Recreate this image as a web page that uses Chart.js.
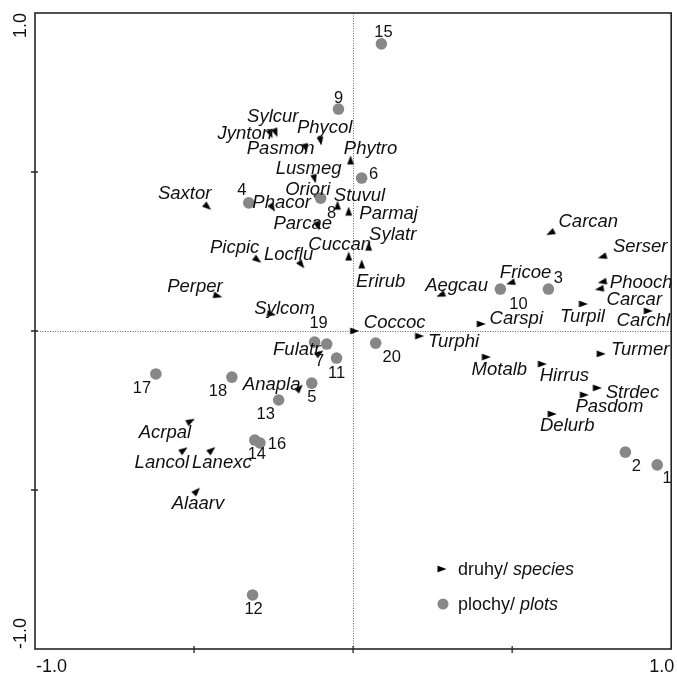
<!DOCTYPE html>
<html>
<head>
<meta charset="utf-8">
<script src="https://cdn.jsdelivr.net/npm/chart.js@4/dist/chart.umd.min.js"></script>
<style>
  html, body { margin: 0; padding: 0; background: #fff; }
  #wrap { width: 677px; height: 674px; }
</style>
</head>
<body>
<div id="wrap"><canvas id="ord" width="677" height="674"></canvas></div>
<script>
// Ordination scores: species (druhy) and sampling plots (plochy) on axes 1 and 2
const speciesNames = ['Sylcur','Jynton','Phycol','Pasmon','Phytro','Lusmeg','Oriori','Stuvul','Parmaj','Phacor',
  'Saxtor','Parcae','Picpic','Locflu','Cuccan','Sylatr','Erirub','Sylcom','Perper','Coccoc',
  'Fulatr','Anapla','Acrpal','Lancol','Lanexc','Alaarv','Carcan','Serser','Fricoe','Aegcau',
  'Phooch','Carcar','Turpil','Carchl','Carspi','Turphi','Turmer','Motalb','Hirrus','Strdec',
  'Pasdom','Delurb'];
const speciesAxis1 = [-0.243,-0.259,-0.102,-0.149,-0.008,-0.121,-0.111,-0.049,-0.014,-0.253,
  -0.457,-0.111,-0.300,-0.162,-0.014,0.049,0.027,-0.256,-0.425,0.005,
  -0.105,-0.168,-0.510,-0.532,-0.444,-0.491,0.620,0.783,0.495,0.275,
  0.783,0.774,0.724,0.928,0.403,0.209,0.780,0.419,0.595,0.768,
  0.727,0.626];
const speciesAxis2 = [0.623,0.619,0.597,0.575,0.538,0.478,0.415,0.396,0.377,0.387,
  0.390,0.330,0.223,0.208,0.236,0.267,0.211,0.053,0.110,0.000,
  -0.069,-0.179,-0.283,-0.374,-0.374,-0.503,0.308,0.233,0.151,0.113,
  0.154,0.132,0.085,0.063,0.022,-0.016,-0.072,-0.082,-0.104,-0.179,
  -0.201,-0.261];

const plotNames = ['1','2','3','4','5','6','7','8','9','10','11','12','13','14','15','16','17','18','19','20'];
const plotAxis1 = [0.956,0.856,0.614,-0.328,-0.130,0.027,-0.083,-0.102,-0.046,0.463,
  -0.052,-0.316,-0.234,-0.309,0.089,-0.293,-0.620,-0.381,-0.121,0.071];
const plotAxis2 = [-0.421,-0.381,0.132,0.403,-0.164,0.481,-0.041,0.418,0.698,0.132,
  -0.085,-0.830,-0.217,-0.343,0.903,-0.352,-0.135,-0.145,-0.035,-0.038];

const axisRange = [-1.0, 1.0];
const axisTickLabels = ['-1.0', '1.0'];
const axisMinorTicks = [-0.5, 0, 0.5];

const legendEntries = [
  { plain: 'druhy/ ', italic: 'species' },
  { plain: 'plochy/ ', italic: 'plots' }
];

// Label placement: pixel nudge of each label centre from its symbol
const speciesLabelNudge = {
  Sylcur:[-3,-16], Jynton:[-26,0], Phycol:[4,-13], Pasmon:[-25,1], Phytro:[20,-11],
  Lusmeg:[-6,-10], Oriori:[-10,-9], Stuvul:[22,-9], Parmaj:[40,3], Phacor:[9,-5],
  Saxtor:[-23,-13], Parcae:[-15,-2], Picpic:[-23,-12], Locflu:[-13,-10], Cuccan:[-9,-11],
  Sylatr:[24,-11], Erirub:[19,18], Sylcom:[13,-5], Perper:[-23,-9], Coccoc:[40,-8],
  Fulatr:[-23,-3], Anapla:[-28,-3], Acrpal:[-26,12], Lancol:[-22,13], Lanexc:[10,13],
  Alaarv:[1,13], Carcan:[38,-11], Serser:[38,-10], Fricoe:[15,-10], Aegcau:[16,-9],
  Phooch:[39,1], Carcar:[35,11], Turpil:[-1,13], Carchl:[-5,10], Carspi:[35,-5],
  Turphi:[34,6], Turmer:[39,-4], Motalb:[13,13], Hirrus:[22,12], Strdec:[35,5],
  Pasdom:[25,12], Delurb:[15,12]
};
const plotLabelNudge = {
  '1':[10,14], '2':[11,14], '3':[10,-11], '4':[-7,-12], '5':[0,14], '6':[12,-4],
  '7':[-7,17], '8':[11,15], '9':[0,-11], '10':[18,15], '11':[0,15], '12':[1,15],
  '13':[-13,14], '14':[2,14], '15':[2,-11], '16':[17,2], '17':[-14,15], '18':[-14,14],
  '19':[4,-19], '20':[16,14]
};

const FONT = '"Liberation Sans", Arial, Helvetica, sans-serif';
const PLOT_GREY = '#878787';

// Slim arrowhead symbol (points up before rotation)
const arrowHead = (() => {
  const c = document.createElement('canvas');
  c.width = 12; c.height = 12;
  const g = c.getContext('2d');
  g.fillStyle = '#000';
  g.beginPath();
  g.moveTo(6, 1.5);
  g.lineTo(9.4, 10.5);
  g.lineTo(2.6, 10.5);
  g.closePath();
  g.fill();
  return c;
})();

// Arrowhead heading for a species symbol (degrees, clockwise from "up")
function heading(p) {
  if (!p) return 90;
  let dx, dy;
  if (p.x < -0.06) { dx = -p.x; dy = -p.y; }            // left half: towards the centre
  else if (p.x <= 0.06 && p.y > 0.1) { dx = 0; dy = 1; } // near the vertical axis: upwards
  else if (p.y > 0.1) { dx = -p.x; dy = -p.y; }         // upper right: towards the centre
  else { dx = 1; dy = 0; }                               // otherwise: to the right
  return Math.atan2(dx, dy) * 180 / Math.PI;
}

const speciesPoints = speciesNames.map((n, i) => ({ x: speciesAxis1[i], y: speciesAxis2[i], name: n }));
const plotPoints = plotNames.map((n, i) => ({ x: plotAxis1[i], y: plotAxis2[i], name: n }));

const framePlugin = {
  id: 'ordFrame',
  beforeDatasetsDraw(chart) {
    const { ctx, chartArea: a, scales } = chart;
    const x0 = scales.x.getPixelForValue(0);
    const y0 = scales.y.getPixelForValue(0);
    ctx.save();
    ctx.strokeStyle = '#666';
    ctx.lineWidth = 1;
    ctx.setLineDash([1, 1.5]);
    ctx.beginPath();
    ctx.moveTo(Math.round(x0) + 0.5, a.top);
    ctx.lineTo(Math.round(x0) + 0.5, a.bottom);
    ctx.moveTo(a.left, Math.round(y0) + 0.5);
    ctx.lineTo(a.right, Math.round(y0) + 0.5);
    ctx.stroke();
    ctx.restore();
  },
  afterDraw(chart) {
    const { ctx, chartArea: a, scales } = chart;
    ctx.save();
    // frame
    ctx.strokeStyle = '#262626';
    ctx.lineWidth = 1.6;
    ctx.strokeRect(a.left, a.top, a.right - a.left, a.bottom - a.top);
    // small ticks on bottom and left axes
    ctx.lineWidth = 1.3;
    ctx.beginPath();
    axisMinorTicks.forEach(v => {
      const px = scales.x.getPixelForValue(v);
      ctx.moveTo(px, a.bottom - 3); ctx.lineTo(px, a.bottom + 4);
      const py = scales.y.getPixelForValue(v);
      ctx.moveTo(a.left - 4, py); ctx.lineTo(a.left + 3, py);
    });
    ctx.stroke();
    // end labels
    ctx.fillStyle = '#111';
    ctx.font = '18px ' + FONT;
    ctx.textBaseline = 'middle';
    ctx.textAlign = 'left';
    ctx.fillText(axisTickLabels[0], scales.x.getPixelForValue(axisRange[0]) + 1, a.bottom + 18);
    ctx.textAlign = 'right';
    ctx.fillText(axisTickLabels[1], scales.x.getPixelForValue(axisRange[1]) + 3, a.bottom + 18);
    ctx.save();
    ctx.translate(21, scales.y.getPixelForValue(axisRange[1]));
    ctx.rotate(-Math.PI / 2);
    ctx.textAlign = 'right';
    ctx.fillText(axisTickLabels[1], 0, 0);
    ctx.restore();
    ctx.save();
    ctx.translate(21, scales.y.getPixelForValue(axisRange[0]));
    ctx.rotate(-Math.PI / 2);
    ctx.textAlign = 'left';
    ctx.fillText(axisTickLabels[0], 0, 0);
    ctx.restore();

    // legend
    const lx = 442, ly = [569, 604], tx = 458;
    Chart.helpers.drawPoint(ctx, { pointStyle: arrowHead, rotation: 90, radius: 5, borderWidth: 0 }, lx, ly[0]);
    ctx.fillStyle = PLOT_GREY;
    ctx.beginPath();
    ctx.arc(lx + 1, ly[1], 5.5, 0, Math.PI * 2);
    ctx.fill();
    ctx.fillStyle = '#111';
    ctx.textAlign = 'left';
    legendEntries.forEach((e, i) => {
      ctx.font = '18px ' + FONT;
      ctx.fillText(e.plain, tx, ly[i] + 1);
      const w = ctx.measureText(e.plain).width;
      ctx.font = 'italic 18px ' + FONT;
      ctx.fillText(e.italic, tx + w, ly[i] + 1);
    });
    ctx.restore();
  }
};

const labelPlugin = {
  id: 'ordLabels',
  afterDatasetsDraw(chart) {
    const { ctx } = chart;
    ctx.save();
    ctx.fillStyle = '#111';
    ctx.textAlign = 'center';
    ctx.textBaseline = 'middle';
    ctx.font = 'italic 18.5px ' + FONT;
    chart.getDatasetMeta(0).data.forEach((el, i) => {
      const n = speciesNames[i];
      const d = speciesLabelNudge[n] || [0, -12];
      ctx.fillText(n, el.x + d[0], el.y + d[1]);
    });
    ctx.font = '16.5px ' + FONT;
    chart.getDatasetMeta(1).data.forEach((el, i) => {
      const n = plotNames[i];
      const d = plotLabelNudge[n] || [0, 14];
      ctx.fillText(n, el.x + d[0], el.y + d[1]);
    });
    ctx.restore();
  }
};

new Chart(document.getElementById('ord'), {
  type: 'scatter',
  data: {
    datasets: [
      {
        label: 'druhy/ species',
        data: speciesPoints,
        pointStyle: arrowHead,
        pointRadius: 5,
        pointRotation: c => heading(c.raw),
        backgroundColor: '#000',
        borderColor: '#000',
        borderWidth: 0,
        order: 2
      },
      {
        label: 'plochy/ plots',
        data: plotPoints,
        pointStyle: 'circle',
        pointRadius: 5.8,
        backgroundColor: PLOT_GREY,
        borderColor: PLOT_GREY,
        borderWidth: 0,
        order: 1
      }
    ]
  },
  options: {
    responsive: false,
    animation: false,
    devicePixelRatio: 1,
    layout: { padding: { left: 35, right: 5, top: 13, bottom: 25 } },
    scales: {
      x: { type: 'linear', min: axisRange[0], max: axisRange[1], display: false },
      y: { type: 'linear', min: axisRange[0], max: axisRange[1], display: false }
    },
    plugins: { legend: { display: false }, tooltip: { enabled: false } }
  },
  plugins: [framePlugin, labelPlugin]
});
</script>
</body>
</html>
